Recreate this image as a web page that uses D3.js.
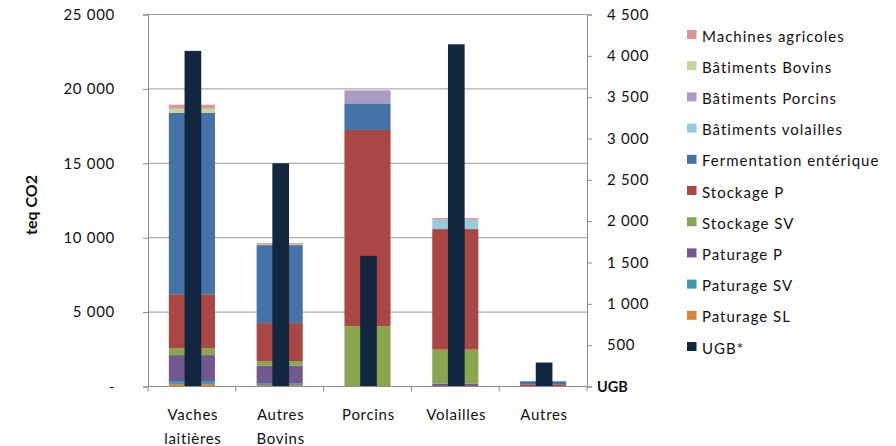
<!DOCTYPE html>
<html><head><meta charset="utf-8">
<script src="https://cdn.jsdelivr.net/npm/d3@7"></script>
<style>body{margin:0;background:#fff}svg{display:block}text{font-family:Lato,"Open Sans",sans-serif;fill:#111}</style>
</head><body><div id="c"></div>
<script>
const categories = ["Vaches laitières","Autres Bovins","Porcins","Volailles","Autres"];
const catLines = [["Vaches","laitières"],["Autres","Bovins"],["Porcins"],["Volailles"],["Autres"]];
// stacked series, bottom to top
const seriesNames = ["Paturage SL","Paturage SV","Paturage P","Stockage SV","Stockage P","Fermentation entérique","Bâtiments volailles","Bâtiments Porcins","Bâtiments Bovins","Machines agricoles"];
const paturageSL   = [170, 100, 0, 0, 0];
const paturageSV   = [200, 130, 0, 0, 0];
const paturageP    = [1740, 1170, 0, 200, 0];
const stockageSV   = [460, 310, 4060, 2280, 0];
const stockageP    = [3630, 2550, 13180, 8100, 150];
const fermentation = [12200, 5240, 1790, 0, 200];
const batVolailles = [0, 0, 0, 630, 0];
const batPorcins   = [0, 0, 870, 0, 0];
const batBovins    = [270, 30, 0, 0, 0];
const machines     = [270, 100, 0, 110, 0];
const ugb          = [4060, 2700, 1580, 4140, 290];
const leftTicks = [0, 5000, 10000, 15000, 20000, 25000];
const rightTicks = [0, 500, 1000, 1500, 2000, 2500, 3000, 3500, 4000, 4500];
const legendNames = ["Machines agricoles","Bâtiments Bovins","Bâtiments Porcins","Bâtiments volailles","Fermentation entérique","Stockage P","Stockage SV","Paturage P","Paturage SV","Paturage SL","UGB*"];
const colors = {"Paturage SL":"#db843d","Paturage SV":"#4198af","Paturage P":"#71588f","Stockage SV":"#89a54e","Stockage P":"#aa4643","Fermentation entérique":"#4572a7","Bâtiments volailles":"#93cddd","Bâtiments Porcins":"#aa9bc5","Bâtiments Bovins":"#c3d69b","Machines agricoles":"#d99795","UGB*":"#12263f"};

const seriesValues = [paturageSL,paturageSV,paturageP,stockageSV,stockageP,fermentation,batVolailles,batPorcins,batBovins,machines];
const rows = categories.map((c,i)=>{const r={cat:c};seriesNames.forEach((s,j)=>r[s]=seriesValues[j][i]);return r;});

const W=896,H=446;
const svg=d3.select("#c").append("svg").attr("width",W).attr("height",H);
const L=148,R=587,T=14.5,B=386.5;
const x=d3.scaleBand().domain(categories).range([L,R]).padding(0);
const y=d3.scaleLinear().domain([0,25000]).range([B,T]);
const y2=d3.scaleLinear().domain([0,4500]).range([B,T]);
const fmt=v=>d3.format(",")(v).replace(/,/g," ");

// gridlines
svg.append("g").selectAll("line").data(leftTicks.slice(1)).join("line")
  .attr("x1",L).attr("x2",R).attr("y1",d=>y(d)).attr("y2",d=>y(d))
  .attr("stroke","#9a9a9a").attr("stroke-width",1);

// stacked bars
const stack=d3.stack().keys(seriesNames)(rows);
const bw=x.bandwidth(), sw=bw*0.525, uw=bw*0.19;
svg.append("g").selectAll("g").data(stack).join("g").attr("fill",d=>colors[d.key])
  .selectAll("rect").data(d=>d).join("rect")
  .attr("x",d=>x(d.data.cat)+(bw-sw)/2).attr("width",sw)
  .attr("y",d=>y(d[1])).attr("height",d=>Math.max(0,y(d[0])-y(d[1])));

// UGB bars
svg.append("g").selectAll("rect").data(categories).join("rect")
  .attr("fill",colors["UGB*"])
  .attr("x",c=>x(c)+(bw-uw)/2+1).attr("width",uw)
  .attr("y",(c,i)=>y2(ugb[i])).attr("height",(c,i)=>B-y2(ugb[i]));

// left axis
const la=svg.append("g").attr("transform",`translate(${L},0)`)
  .call(d3.axisLeft(y).tickValues(leftTicks).tickSize(5).tickPadding(28).tickFormat(d=>d===0?"-":fmt(d)));
la.selectAll("path,line").attr("stroke","#8c8c8c");
la.selectAll("text").attr("font-size",15).attr("font-family","Lato").attr("letter-spacing","0.7px").attr("fill","#111");

// right axis
const ra=svg.append("g").attr("transform",`translate(${R},0)`)
  .call(d3.axisRight(y2).tickValues(rightTicks).tickSize(5).tickPadding(15).tickFormat(d=>d===0?"":fmt(d)));
ra.selectAll("path,line").attr("stroke","#8c8c8c");
ra.selectAll("text").attr("font-size",15).attr("font-family","Lato").attr("letter-spacing","0.7px").attr("fill","#111");
svg.append("text").attr("x",R+10).attr("y",B).attr("dy","0.36em").attr("font-size",14.5).attr("font-weight","bold").text("UGB");

// x axis
svg.append("line").attr("x1",L).attr("x2",R).attr("y1",B).attr("y2",B).attr("stroke","#8c8c8c");
svg.append("g").selectAll("line").data(categories.concat(["_end"])).join("line")
  .attr("x1",(c,i)=>L+i*bw).attr("x2",(c,i)=>L+i*bw).attr("y1",B).attr("y2",B+5).attr("stroke","#8c8c8c");
const xl=svg.append("g").selectAll("text").data(categories).join("text")
  .attr("text-anchor","middle").attr("font-size",15).attr("letter-spacing","0.7px")
  .attr("x",c=>x(c)+bw/2+1).attr("y",420);
xl.each(function(c,i){const t=d3.select(this);catLines[i].forEach((l,k)=>t.append("tspan").attr("x",x(c)+bw/2+1).attr("y",420+k*23.5).text(l));});

// y title
svg.append("text").attr("transform","translate(37,205) rotate(-90)").attr("text-anchor","middle")
  .attr("font-size",16).attr("font-weight","bold").text("teq CO2");

// legend
const lg=svg.append("g").selectAll("g").data(legendNames).join("g")
  .attr("transform",(d,i)=>`translate(687,${41.5+i*31.2})`);
lg.append("rect").attr("x",0).attr("y",-11.5).attr("width",9.5).attr("height",9).attr("fill",d=>colors[d]);
lg.append("text").attr("x",15).attr("y",0).attr("font-size",15).attr("letter-spacing","1px").text(d=>d);
</script></body></html>
